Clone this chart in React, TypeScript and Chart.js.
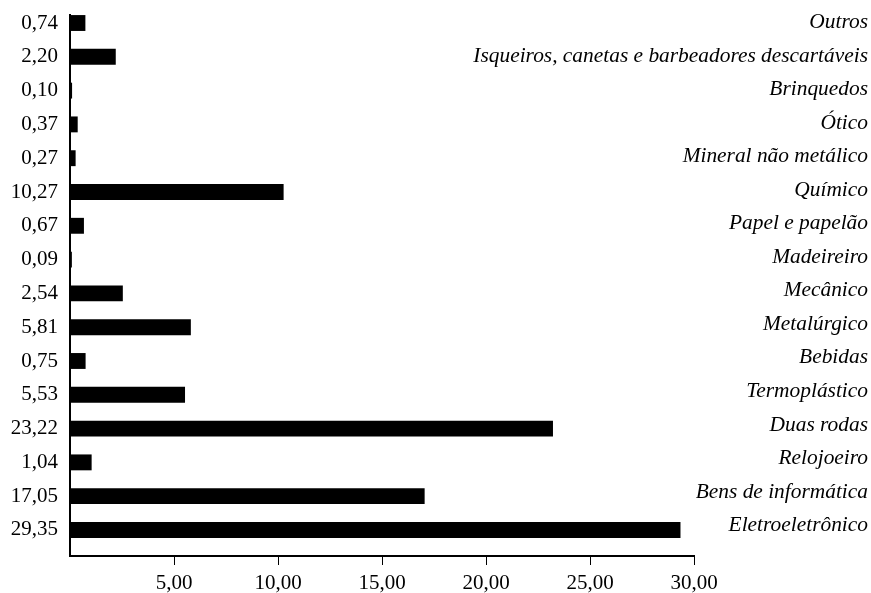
import React, { useEffect, useRef } from "react";
import { Chart, registerables } from "chart.js";

Chart.register(...registerables);

const categories = [
  "Outros",
  "Isqueiros, canetas e barbeadores descartáveis",
  "Brinquedos",
  "Ótico",
  "Mineral não metálico",
  "Químico",
  "Papel e papelão",
  "Madeireiro",
  "Mecânico",
  "Metalúrgico",
  "Bebidas",
  "Termoplástico",
  "Duas rodas",
  "Relojoeiro",
  "Bens de informática",
  "Eletroeletrônico",
];

const values = [
  0.74, 2.2, 0.1, 0.37, 0.27, 10.27, 0.67, 0.09, 2.54, 5.81, 0.75, 5.53, 23.22,
  1.04, 17.05, 29.35,
];

const xTicks = [5, 10, 15, 20, 25, 30];

const FONT = "'Liberation Serif', 'Times New Roman', serif";
const fmt = (v: number) => v.toFixed(2).replace(".", ",");

const categoryNamesPlugin = {
  id: "categoryNames",
  afterDraw(chart: any) {
    const { ctx } = chart;
    const nameScale = chart.scales.yNames;
    ctx.save();
    ctx.font = `italic 21.4px ${FONT}`;
    ctx.fillStyle = "#000";
    ctx.textAlign = "right";
    ctx.textBaseline = "middle";
    categories.forEach((name, i) => {
      ctx.fillText(name, chart.width - 3, nameScale.getPixelForValue(i));
    });
    ctx.restore();
  },
};

export default function App() {
  const ref = useRef<HTMLCanvasElement>(null);
  useEffect(() => {
    if (!ref.current) return;
    const chart = new Chart(ref.current, {
      type: "bar",
      data: {
        datasets: [
          {
            data: values.map((v, i) => ({ x: v, y: i })),
            backgroundColor: "#000",
            borderWidth: 0,
            categoryPercentage: 1,
            barPercentage: 0.47,
          },
        ],
      },
      options: {
        indexAxis: "y",
        animation: false,
        responsive: false,
        maintainAspectRatio: false,
        layout: { padding: { top: 15, right: 177, bottom: 0, left: 0 } },
        plugins: {
          legend: { display: false },
          tooltip: { enabled: false },
        },
        scales: {
          x: {
            type: "linear",
            min: 0,
            max: 30,
            bounds: "data",
            offset: false,
            afterBuildTicks: (axis: any) => {
              axis.ticks = xTicks.map((v) => ({ value: v }));
            },
            afterFit: (axis: any) => {
              axis.height = 37;
            },
            grid: {
              drawOnChartArea: false,
              drawTicks: true,
              tickLength: 9,
              color: "#000",
              lineWidth: 1,
            },
            border: { color: "#000", width: 2 },
            ticks: {
              color: "#000",
              font: { family: FONT, size: 21 },
              padding: 6,
              maxRotation: 0,
              callback: (v: any) => fmt(Number(v)),
            },
          },
          y: {
            type: "linear",
            reverse: true,
            min: -0.237,
            max: 15.77,
            bounds: "data",
            offset: false,
            afterBuildTicks: (axis: any) => {
              axis.ticks = categories.map((_, i) => ({ value: i }));
            },
            afterFit: (axis: any) => {
              axis.width = 70;
              axis.paddingTop = 0;
              axis.paddingBottom = 0;
            },
            grid: { drawOnChartArea: false, drawTicks: false, offset: false },
            border: { color: "#000", width: 2 },
            ticks: {
              color: "#000",
              font: { family: FONT, size: 21 },
              padding: 12,
              autoSkip: false,
              callback: (v: any) => fmt(values[Math.round(Number(v))]),
            },
          },
          yNames: {
            type: "linear",
            axis: "y",
            display: false,
            reverse: true,
            offset: false,
            grid: { offset: false },
            min: -0.224,
            max: 15.91,
            bounds: "data",
          },
        },
      },
      plugins: [categoryNamesPlugin],
    });
    return () => chart.destroy();
  }, []);
  return (
    <div style={{ position: "fixed", left: 0, top: 0, width: 871, height: 593, background: "#fff" }}>
      <canvas ref={ref} width={871} height={593} style={{ width: 871, height: 593 }} />
    </div>
  );
}
